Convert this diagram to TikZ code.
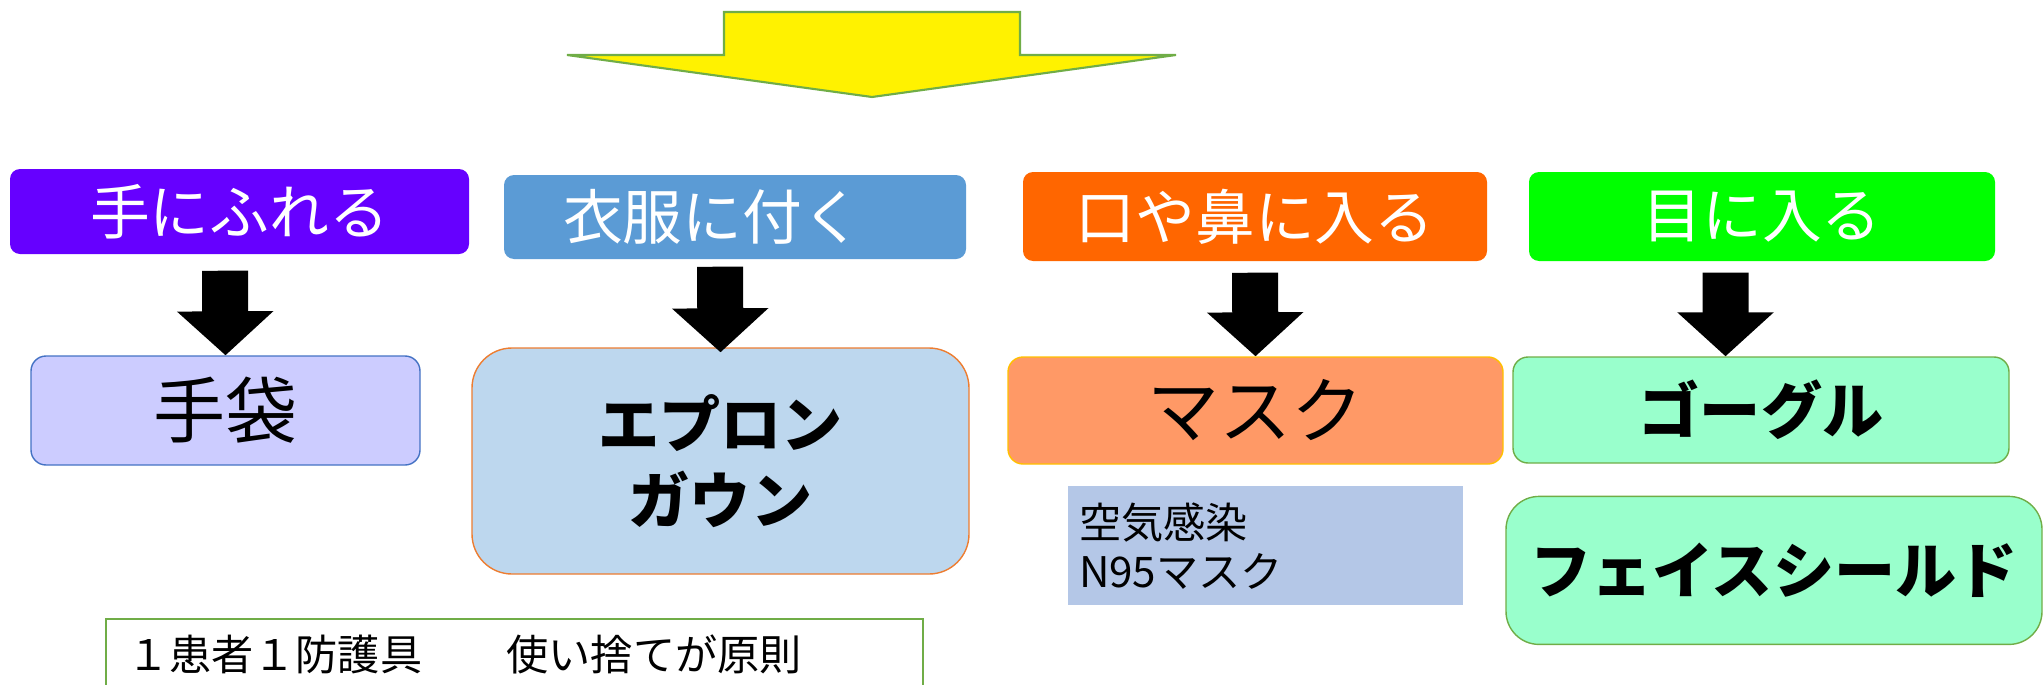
\documentclass[tikz,border=0pt]{standalone}
\usepackage{fontspec}
\setmainfont{Noto Sans CJK JP}
\usetikzlibrary{positioning}
\usetikzlibrary{arrows.meta}

\definecolor{touchcol}{HTML}{6600FF}
\definecolor{clothcol}{HTML}{5B9BD5}
\definecolor{mouthcol}{HTML}{FF6600}
\definecolor{eyecol}{HTML}{00FF00}
\definecolor{glovecol}{HTML}{CCCCFF}
\definecolor{gloveline}{HTML}{4472C4}
\definecolor{aproncol}{HTML}{BDD7EE}
\definecolor{apronline}{HTML}{ED7D31}
\definecolor{maskcol}{HTML}{FF9966}
\definecolor{maskline}{HTML}{FFC000}
\definecolor{mintcol}{HTML}{99FFCC}
\definecolor{greenline}{HTML}{70AD47}
\definecolor{aircol}{HTML}{B4C7E7}

\tikzset{
  route/.style={rounded corners=0.1cm, inner sep=0pt, text=white, font=\fontsize{17}{20}\selectfont},
  ppe/.style={rounded corners=0.15cm, inner sep=0pt, line width=0.4pt},
  bigtext/.style={font=\fontsize{20.5}{24}\selectfont},
  boldtext/.style={font=\fontsize{17.4}{21.6}\selectfont\bfseries},
  smalltext/.style={font=\fontsize{12}{14}\selectfont},
  blockarrow/.style={line width=0.46cm, -{Triangle[length=0.44cm, width=0.94cm]}},
}

\begin{document}
\begin{tikzpicture}
    \useasboundingbox (0,0) rectangle (20.44,-6.84);

    % big arrow on top
    \draw[fill=yellow, draw=greenline, line width=0.6pt] (7.24,-0.12) -- (10.20,-0.12) -- (10.20,-0.55) -- (11.76,-0.55) -- (8.72,-0.97) -- (5.67,-0.55) -- (7.24,-0.55) -- cycle;

    %nodes
    \node[route, fill=touchcol, minimum width=4.59cm, minimum height=0.85cm] (touch) at (2.395,-2.115) {手にふれる};
    \node[route, fill=clothcol, minimum width=4.62cm, minimum height=0.84cm] (cloth) at (7.35,-2.17) {\hspace*{-0.45cm}衣服に付く};
    \node[route, fill=mouthcol, minimum width=4.64cm, minimum height=0.89cm] (mouth) at (12.55,-2.165) {口や鼻に入る};
    \node[route, fill=eyecol, minimum width=4.66cm, minimum height=0.89cm] (eye) at (17.62,-2.165) {目に入る};

    \node[ppe, bigtext, fill=glovecol, draw=gloveline, minimum width=3.89cm, minimum height=1.09cm] (glove) at (2.255,-4.105) {手袋};
    \node[ppe, boldtext, fill=aproncol, draw=apronline, rounded corners=0.4cm, align=center, minimum width=4.97cm, minimum height=2.26cm] (apron) at (7.205,-4.61) {エプロン\\ガウン};
    \node[ppe, bigtext, fill=maskcol, draw=maskline, minimum width=4.95cm, minimum height=1.07cm] (mask) at (12.555,-4.105) {マスク};
    \node[ppe, boldtext, fill=mintcol, draw=greenline, minimum width=4.96cm, minimum height=1.06cm] (goggle) at (17.61,-4.10) {ゴーグル};
    \node[smalltext, fill=aircol, inner sep=0pt, align=left, text width=3.73cm, minimum width=3.95cm, minimum height=1.19cm, below=0.21cm of mask, xshift=0.1cm] (air) {空気感染\\N95マスク};
    \node[ppe, boldtext, fill=mintcol, draw=greenline, rounded corners=0.33cm, minimum width=5.36cm, minimum height=1.48cm, below=0.32cm of goggle, xshift=0.13cm] (shield) {フェイスシールド};
    \node[smalltext, draw=greenline, line width=0.8pt, inner sep=0pt, align=left, text width=7.75cm, minimum width=8.17cm, minimum height=0.71cm] (rule) at (5.145,-6.545) {１患者１防護具　　使い捨てが原則};

    % edges
    \draw[blockarrow] ([xshift=-0.145cm, yshift=-0.16cm]touch.south) -- (glove.north);
    \draw[blockarrow] ([xshift=-0.15cm, yshift=-0.07cm]cloth.south) -- ([yshift=-0.05cm]apron.north);
    \draw[blockarrow] ([yshift=-0.11cm]mouth.south) -- (mask.north);
    \draw[blockarrow] ([xshift=-0.365cm, yshift=-0.11cm]eye.south) -- ([xshift=-0.355cm]goggle.north);

\end{tikzpicture}
\end{document}
